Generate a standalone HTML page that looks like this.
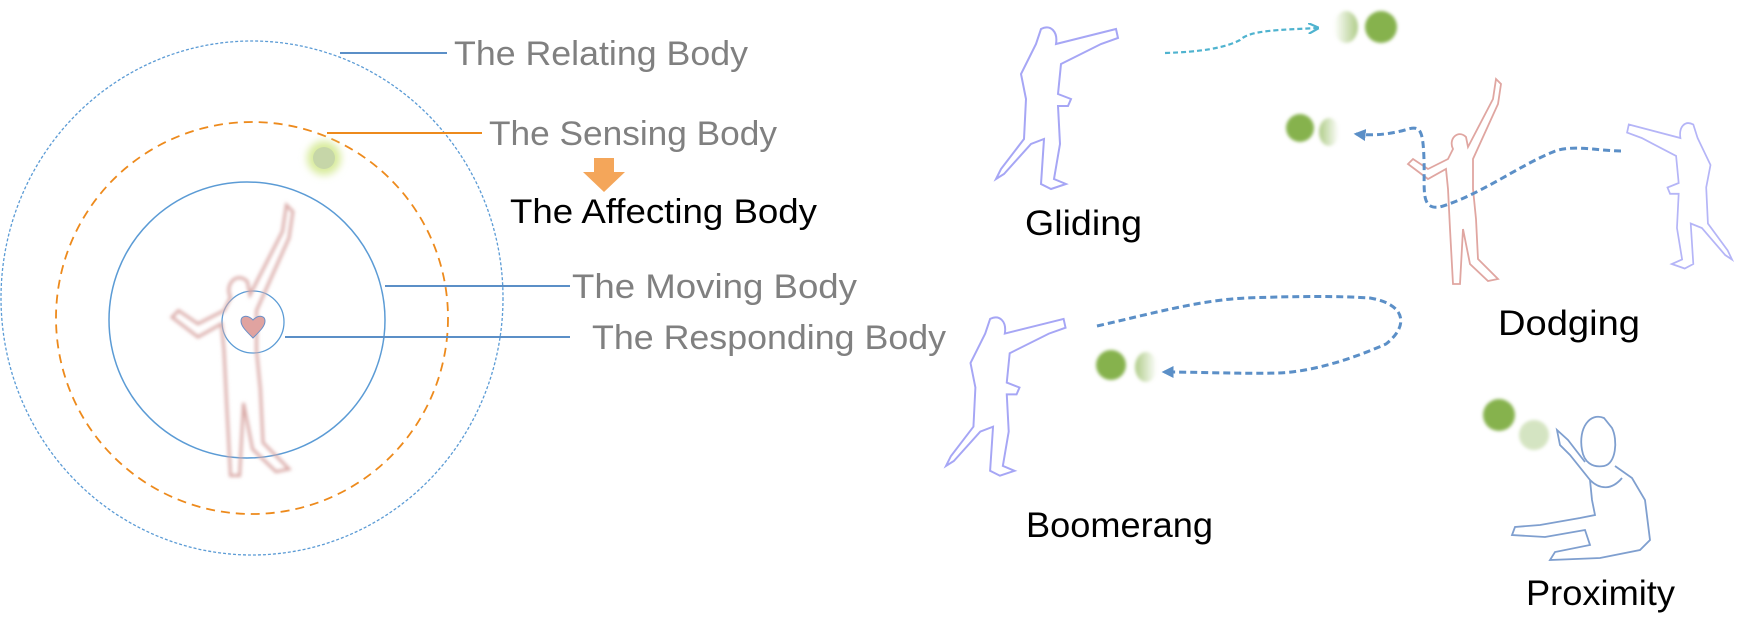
<!DOCTYPE html>
<html><head><meta charset="utf-8"><style>
html,body{margin:0;padding:0;background:#fff;}
svg{display:block;}
text{font-family:"Liberation Sans",sans-serif;}
</style></head><body>
<svg width="1747" height="620" viewBox="0 0 1747 620" xmlns="http://www.w3.org/2000/svg">
<defs>
<filter id="bl" x="-50%" y="-50%" width="200%" height="200%"><feGaussianBlur stdDeviation="1.5"/></filter>
<filter id="bl2" x="-80%" y="-80%" width="260%" height="260%"><feGaussianBlur stdDeviation="4"/></filter>
<linearGradient id="fade" x1="0" x2="1"><stop offset="0" stop-color="#9bbf6a" stop-opacity="0"/><stop offset="1" stop-color="#9bbf6a" stop-opacity="0.8"/></linearGradient>
<linearGradient id="fadeL" x1="1" x2="0"><stop offset="0" stop-color="#9bbf6a" stop-opacity="0"/><stop offset="1" stop-color="#9bbf6a" stop-opacity="0.8"/></linearGradient>
<marker id="ar" viewBox="0 0 10 10" refX="8" refY="5" markerWidth="4" markerHeight="4" orient="auto"><path d="M0,0 L10,5 L0,10 Z" fill="#5b8fc7"/></marker>
<marker id="arc" viewBox="0 0 10 10" refX="8" refY="5" markerWidth="5" markerHeight="5" orient="auto"><path d="M0,0 L10,5 L0,10" fill="none" stroke="#4fb3cf" stroke-width="2"/></marker>
<path id="thrower" d="M45,5 C55,0 62,8 60,20 L100,10 L120,5 L122,14 L105,20 L65,40 L62,70 L75,75 L72,82 L62,82 L64,120 L58,155 L70,160 L55,165 L45,160 L48,115 L35,120 L8,150 L0,155 L5,145 L28,115 L30,75 L25,50 L35,30 L40,20 Z"/>
<path id="dancer" d="M45,70 C40,60 50,50 58,58 L60,68 L85,20 L88,0 L93,5 L90,25 L65,80 L65,110 L68,140 L70,180 L90,200 L80,202 L62,185 L55,150 L52,205 L45,205 L42,150 L40,110 L38,90 L20,100 L0,85 L5,80 L20,90 L40,80 Z"/>
</defs>

<ellipse cx="252" cy="298" rx="251" ry="257" fill="none" stroke="#5b9bd5" stroke-width="1.3" stroke-dasharray="3,2"/>
<circle cx="252" cy="318" r="196" fill="none" stroke="#ed8a1c" stroke-width="1.8" stroke-dasharray="9,6"/>
<circle cx="247" cy="320" r="138" fill="none" stroke="#5b9bd5" stroke-width="1.5"/>
<circle cx="253" cy="322" r="31" fill="none" stroke="#5b9bd5" stroke-width="1.3"/>
<use href="#dancer" transform="translate(172,205) scale(1.3,1.32)" fill="none" stroke="#d9a9a6" stroke-width="2.2" filter="url(#bl)"/>
<path d="M253,338 C245,330 241,326 241,321 C241,316 247,314 253,320 C259,314 265,316 265,321 C265,326 261,330 253,338 Z" fill="#e0a3a0" stroke="#6a8fc7" stroke-width="1"/>
<circle cx="324" cy="158" r="17" fill="#d8eb9c" filter="url(#bl2)"/>
<circle cx="324" cy="158" r="11" fill="#c6d6a8"/>
<line x1="340" y1="53" x2="447" y2="53" stroke="#5b8fc7" stroke-width="2"/>
<line x1="327" y1="133" x2="482" y2="133" stroke="#ed8a1c" stroke-width="2"/>
<line x1="385" y1="286" x2="570" y2="286" stroke="#5b8fc7" stroke-width="2"/>
<line x1="285" y1="337" x2="570" y2="337" stroke="#5b8fc7" stroke-width="2"/>
<path d="M594,158 L614,158 L614,172 L625,172 L604,192 L583,172 L594,172 Z" fill="#f4a65a"/>
<text x="454" y="65" font-size="34" fill="#808080" textLength="294" lengthAdjust="spacingAndGlyphs">The Relating Body</text>
<text x="489" y="145" font-size="34" fill="#808080" textLength="288" lengthAdjust="spacingAndGlyphs">The Sensing Body</text>
<text x="510" y="223" font-size="34" fill="#000" textLength="307" lengthAdjust="spacingAndGlyphs">The Affecting Body</text>
<text x="572" y="298" font-size="34" fill="#808080" textLength="285" lengthAdjust="spacingAndGlyphs">The Moving Body</text>
<text x="592" y="349" font-size="34" fill="#808080" textLength="354" lengthAdjust="spacingAndGlyphs">The Responding Body</text>

<use href="#thrower" transform="translate(996,24)" fill="none" stroke="#a6a6f5" stroke-width="2"/>
<path d="M1165,53 C1200,52 1225,48 1240,40 C1250,30 1280,30 1317,28" fill="none" stroke="#4fb3cf" stroke-width="2.2" stroke-dasharray="5,3" marker-end="url(#arc)"/>
<ellipse cx="1346" cy="27" rx="12" ry="16" fill="url(#fade)" filter="url(#bl)"/>
<circle cx="1381" cy="27" r="16" fill="#86b24e" filter="url(#bl)"/>
<text x="1025" y="235" font-size="35" fill="#000" textLength="117" lengthAdjust="spacingAndGlyphs">Gliding</text>

<use href="#dancer" transform="translate(1408,79)" fill="none" stroke="#e0a6a1" stroke-width="1.8"/>
<use href="#thrower" transform="translate(1732,120) scale(-0.86,0.9)" fill="none" stroke="#b5b5f7" stroke-width="2"/>
<path d="M1621,151 C1600,151 1570,144 1553,152 C1520,165 1480,195 1440,207 C1420,210 1425,190 1424,160 C1423,128 1420,125 1405,130 C1390,134 1375,136 1356,134" fill="none" stroke="#5b8fc7" stroke-width="3" stroke-dasharray="7,4" marker-end="url(#ar)"/>
<circle cx="1300" cy="128" r="14" fill="#86b24e" filter="url(#bl)"/>
<ellipse cx="1329" cy="132" rx="10" ry="14" fill="url(#fadeL)" filter="url(#bl)"/>
<text x="1498" y="335" font-size="35" fill="#000" textLength="142" lengthAdjust="spacingAndGlyphs">Dodging</text>

<use href="#thrower" transform="translate(946,314) scale(0.98,0.98)" fill="none" stroke="#a6a6f5" stroke-width="2"/>
<path d="M1097,326 C1150,314 1200,300 1246,298 C1300,296 1340,296 1370,298 C1405,304 1410,325 1386,344 C1350,360 1310,372 1278,373 C1240,374 1200,372 1164,372" fill="none" stroke="#5b8fc7" stroke-width="3" stroke-dasharray="7,4" marker-end="url(#ar)"/>
<circle cx="1111" cy="365" r="15" fill="#86b24e" filter="url(#bl)"/>
<ellipse cx="1146" cy="367" rx="11" ry="15" fill="url(#fadeL)" filter="url(#bl)"/>
<text x="1026" y="537" font-size="35" fill="#000" textLength="187" lengthAdjust="spacingAndGlyphs">Boomerang</text>

<circle cx="1499" cy="415" r="16" fill="#86b24e" filter="url(#bl)"/>
<circle cx="1534" cy="435" r="15" fill="#b9d39a" opacity="0.6" filter="url(#bl)"/>
<g fill="none" stroke="#7f9fcf" stroke-width="1.8">
<path d="M1604,418 C1590,412 1578,428 1582,450 C1584,462 1592,468 1604,466 C1616,464 1618,440 1612,428 Z"/>
<path d="M1585,462 L1568,440 L1557,430 L1560,445 L1570,455 L1590,480 L1592,500 L1595,515 L1580,518 L1540,525 L1515,527 L1512,535 L1545,537 L1585,530 L1590,545 L1555,552 L1550,560 L1600,558 L1640,550 L1650,540 L1645,500 L1632,478 L1615,466"/>
<path d="M1590,480 C1600,490 1612,490 1622,478"/>
</g>
<text x="1526" y="605" font-size="35" fill="#000" textLength="149" lengthAdjust="spacingAndGlyphs">Proximity</text>
</svg>
</body></html>
